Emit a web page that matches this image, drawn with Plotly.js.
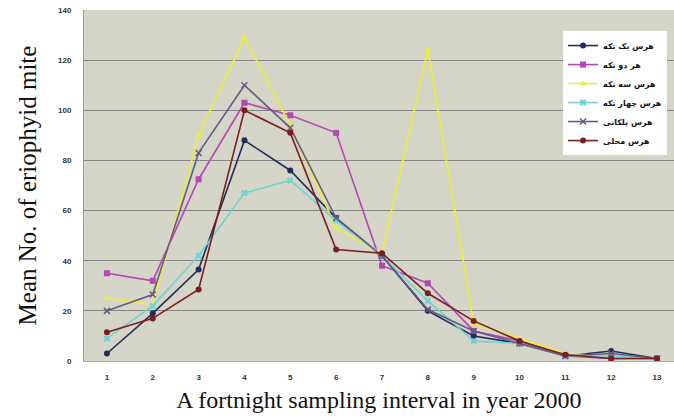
<!DOCTYPE html>
<html><head><meta charset="utf-8">
<script src="https://cdn.plot.ly/plotly-3.0.1.min.js"></script>
<style>html,body{margin:0;padding:0;background:#fff;}#chart{width:674px;height:420px;}</style>
</head><body><div id="chart"></div>
<script>
const intervals = [1,2,3,4,5,6,7,8,9,10,11,12,13];
const seriesNames = ["هرس یک تکه","هر دو تکه","هرس سه تکه","هرس چهار تکه","هرس پلکانی","هرس محلی"];
const onePiece   = [3, 19, 36.5, 88, 76, 57, 42, 20, 10, 7, 2, 4, 1];
const twoPiece   = [35, 32, 72.5, 103, 98, 91, 38, 31, 12, 8, 2, 1, 1];
const threePiece = [25, 22.5, 90, 129, 94, 53, 43, 124, 15, 9, 3, 2, 1];
const fourPiece  = [9, 22, 42, 67, 72, 56, 42, 24, 8, 7, 2, 2, 1];
const stepwise   = [20, 26.5, 83, 110, 93, 57, 42, 20.5, 12, 7, 2, 3, 1];
const local      = [11.5, 17, 28.5, 100, 91, 44.5, 43, 27, 16, 8, 2.5, 1, 1];
const yTicks = [0,20,40,60,80,100,120,140];

const values = [onePiece, twoPiece, threePiece, fourPiece, stepwise, local];
const colors = ["#1e2d5c","#b347b3","#eeee3a","#6fd3d3","#665a86","#7a1e1e"];
const symbols = ["circle","square","triangle-up","x","x-thin-open","circle"];

const traces = values.map((v,i)=>({
  x: intervals, y: v, name: seriesNames[i], type:'scatter', mode:'lines+markers',
  line:{color:colors[i], width:1.6},
  marker:{color:colors[i], size:6, symbol:symbols[i],
          line:{color:colors[i], width: symbols[i]==='x-thin-open'?1.5:0}}
}));

const layout = {
  width:674, height:420,
  margin:{l:84, r:0, t:10, b:59},
  paper_bgcolor:'#ffffff', plot_bgcolor:'#d5d5c8',
  showlegend:true,
  legend:{x:0.812, y:0.94, xanchor:'left', yanchor:'top', bgcolor:'#ffffff',
          font:{family:'"DejaVu Sans", sans-serif', size:8, color:'#111', weight:'bold'},
          tracegroupgap:0, itemwidth:30},
  xaxis:{range:[0.5,13.37], tickvals:intervals, ticktext:intervals.map(String),
         showgrid:false, zeroline:false, showline:true, linecolor:'#c9a0a0', linewidth:1,
         ticks:'', ticklabelstandoff:8,
         tickfont:{family:'"Liberation Sans", Arial, sans-serif', size:8, color:'#333', weight:'bold'},
         title:{text:'A fortnight sampling interval in year 2000', standoff:10,
                font:{family:'"Liberation Serif", "Times New Roman", serif', size:24, color:'#111'}}},
  yaxis:{range:[0,140], tickvals:yTicks, showgrid:true, gridcolor:'#858585', gridwidth:1,
         zeroline:false, showline:true, linecolor:'#999999', linewidth:1, ticks:'',
         ticklabelstandoff:10,
         tickfont:{family:'"Liberation Sans", Arial, sans-serif', size:8, color:'#333', weight:'bold'},
         title:{text:'Mean No. of eriophyid mite', standoff:14,
                font:{family:'"Liberation Serif", "Times New Roman", serif', size:25, color:'#111'}}}
};
Plotly.newPlot('chart', traces, layout, {displayModeBar:false, staticPlot:true});
</script></body></html>
